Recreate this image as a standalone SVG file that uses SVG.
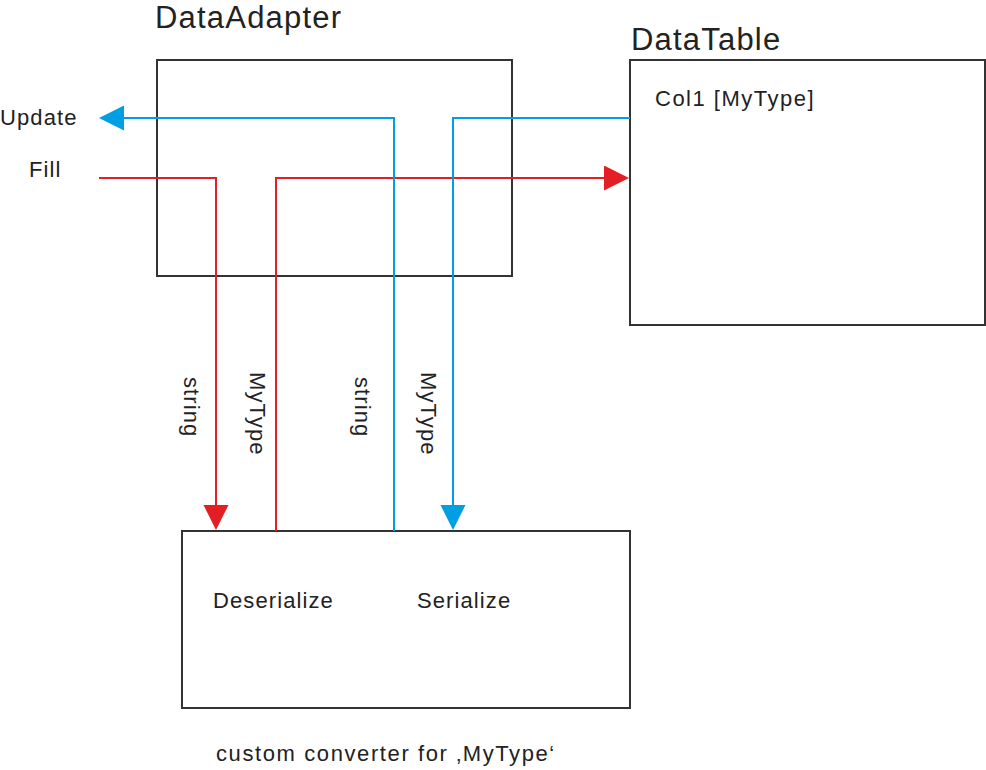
<svg xmlns="http://www.w3.org/2000/svg" width="986" height="770" viewBox="0 0 986 770">
<style>
.box{fill:none;stroke:#333;stroke-width:2}
.t{font-family:"Liberation Sans",Arial,sans-serif;font-size:22px;fill:#222;letter-spacing:1.1px}
.title{font-size:31px;letter-spacing:1.2px}
.red{fill:none;stroke:#e31e24;stroke-width:2}
.blue{fill:none;stroke:#009fe3;stroke-width:2}
</style>
<defs>
<marker id="ar" markerUnits="userSpaceOnUse" markerWidth="26" markerHeight="26" refX="20" refY="12.5" orient="auto"><path d="M0,0 L25,12.5 L0,25 z" fill="#e31e24"/></marker>
<marker id="ab" markerUnits="userSpaceOnUse" markerWidth="26" markerHeight="26" refX="20" refY="12.5" orient="auto"><path d="M0,0 L25,12.5 L0,25 z" fill="#009fe3"/></marker>
</defs>
<rect width="986" height="770" fill="#fff"/>
<g id="dataadapter">
<rect class="box" x="157" y="60" width="355" height="216"/>
<text class="t title" x="155" y="28">DataAdapter</text>
</g>
<g id="datatable">
<rect class="box" x="630" y="60" width="355" height="265"/>
<text class="t title" x="631" y="50">DataTable</text>
<text class="t" x="655" y="106" style="letter-spacing:1.5px">Col1 [MyType]</text>
</g>
<g id="converter">
<rect class="box" x="182" y="531" width="448" height="177"/>
<text class="t" x="213" y="608">Deserialize</text>
<text class="t" x="417" y="608">Serialize</text>
<text class="t" x="216" y="761" style="letter-spacing:1.6px">custom converter for ‚MyType‘</text>
</g>
<g id="update"><text class="t" x="0" y="125">Update</text></g>
<g id="fill"><text class="t" x="29" y="177">Fill</text></g>
<g id="connectors">
<path class="red" d="M99,178 H216 V525" marker-end="url(#ar)"/>
<path class="red" d="M276,531 V178 H624" marker-end="url(#ar)"/>
<path class="blue" d="M630,118 H453 V525" marker-end="url(#ab)"/>
<path class="blue" d="M394,531 V118 H104" marker-end="url(#ab)"/>
<text class="t" transform="translate(184,377) rotate(90)">string</text>
<text class="t" transform="translate(250,372) rotate(90)">MyType</text>
<text class="t" transform="translate(355,377) rotate(90)">string</text>
<text class="t" transform="translate(421,372) rotate(90)">MyType</text>
</g>
</svg>
